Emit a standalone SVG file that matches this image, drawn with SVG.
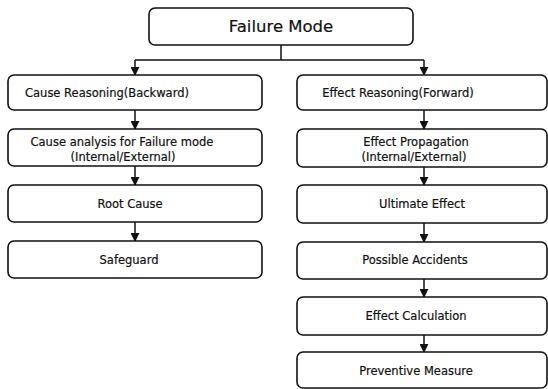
<svg xmlns="http://www.w3.org/2000/svg" width="548" height="389" viewBox="0 0 548 389">
<style>
.box{fill:#fff;stroke:#111;stroke-width:1.6}
.t{font-family:"DejaVu Sans",Verdana,sans-serif;font-size:11.5px;fill:#111;stroke:#111;stroke-width:0.2;text-anchor:middle}
.big{font-size:16.5px}
.c{stroke:#111;stroke-width:1.5;fill:none}
</style>
<defs>
<marker id="ah" viewBox="0 0 10 10" refX="9" refY="5" markerWidth="9" markerHeight="9" markerUnits="userSpaceOnUse" orient="auto">
<path d="M0,0 L10,5 L0,10 z" fill="#111"/>
</marker>
</defs>
<rect width="548" height="389" fill="#fff"/>
<g id="connectors">
<path class="c" d="M281,45 V60"/>
<path class="c" d="M135,60 H424"/>
<path class="c" d="M135,60 V75" marker-end="url(#ah)"/>
<path class="c" d="M424,60 V75" marker-end="url(#ah)"/>
<path class="c" d="M135,110 V129" marker-end="url(#ah)"/>
<path class="c" d="M135,166 V185" marker-end="url(#ah)"/>
<path class="c" d="M135,222 V241" marker-end="url(#ah)"/>
<path class="c" d="M424,110 V129" marker-end="url(#ah)"/>
<path class="c" d="M424,167 V185" marker-end="url(#ah)"/>
<path class="c" d="M424,223 V242" marker-end="url(#ah)"/>
<path class="c" d="M424,279 V297" marker-end="url(#ah)"/>
<path class="c" d="M424,335 V352" marker-end="url(#ah)"/>
</g>
<g id="failure-mode">
<rect class="box" x="149" y="8" width="264" height="37" rx="6"/>
<text class="t big" x="281" y="32">Failure Mode</text>
</g>
<g id="cause-reasoning">
<rect class="box" x="8" y="75" width="254" height="35" rx="6"/>
<text class="t" x="107" y="97">Cause Reasoning(Backward)</text>
</g>
<g id="cause-analysis">
<rect class="box" x="8" y="129" width="254" height="37" rx="6"/>
<text class="t" x="122" y="146">Cause analysis for Failure mode</text>
<text class="t" x="123" y="161">(Internal/External)</text>
</g>
<g id="root-cause">
<rect class="box" x="8" y="185" width="254" height="37" rx="6"/>
<text class="t" x="130" y="208">Root Cause</text>
</g>
<g id="safeguard">
<rect class="box" x="8" y="241" width="254" height="37" rx="6"/>
<text class="t" x="129" y="264">Safeguard</text>
</g>
<g id="effect-reasoning">
<rect class="box" x="297" y="75" width="250" height="35" rx="6"/>
<text class="t" x="398" y="97">Effect Reasoning(Forward)</text>
</g>
<g id="effect-propagation">
<rect class="box" x="297" y="129" width="250" height="38" rx="6"/>
<text class="t" x="416" y="146">Effect Propagation</text>
<text class="t" x="414" y="161">(Internal/External)</text>
</g>
<g id="ultimate-effect">
<rect class="box" x="297" y="185" width="250" height="38" rx="6"/>
<text class="t" x="422" y="208">Ultimate Effect</text>
</g>
<g id="possible-accidents">
<rect class="box" x="297" y="242" width="250" height="37" rx="6"/>
<text class="t" x="415" y="264">Possible Accidents</text>
</g>
<g id="effect-calculation">
<rect class="box" x="297" y="297" width="250" height="38" rx="6"/>
<text class="t" x="416" y="320">Effect Calculation</text>
</g>
<g id="preventive-measure">
<rect class="box" x="297" y="352" width="250" height="36" rx="6"/>
<text class="t" x="416" y="375">Preventive Measure</text>
</g>
</svg>
